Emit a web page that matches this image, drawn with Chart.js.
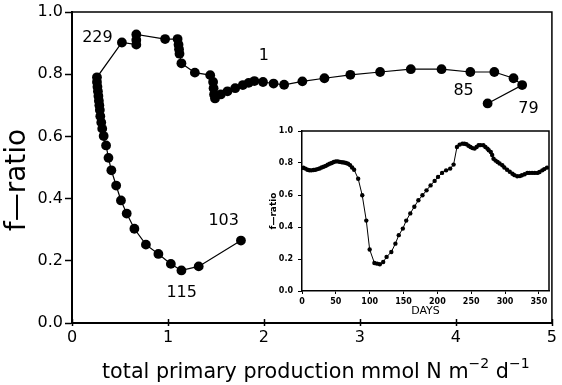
<!DOCTYPE html>
<html>
<head>
<meta charset="utf-8">
<script src="https://cdn.jsdelivr.net/npm/chart.js@4/dist/chart.umd.min.js"></script>
<style>
  html, body { margin: 0; padding: 0; background: #fff; }
  #wrap { position: relative; width: 562px; height: 385px; overflow: hidden; }
  #main { position: absolute; left: 0; top: 0; }
  #inset { position: absolute; left: 262px; top: 120px; }
</style>
</head>
<body>
<div id="wrap">
  <canvas id="main" width="562" height="385"></canvas>
  <canvas id="inset" width="297" height="202"></canvas>
</div>
<script>
// Day 1 to day 85: total primary production (mmol N m-2 d-1) and f-ratio
const prodEarly = [1.99, 2.10, 2.21, 2.40, 2.63, 2.90, 3.21, 3.53, 3.85, 4.15, 4.40, 4.60, 4.69, 4.33];
const fEarly    = [0.775, 0.770, 0.766, 0.777, 0.787, 0.798, 0.807, 0.816, 0.816, 0.807, 0.807, 0.787, 0.765, 0.706];

// Day 103 to the end of the year
const prodLate = [1.76, 1.32, 1.14, 1.03, 0.90, 0.77, 0.65, 0.57, 0.51, 0.46,
                  0.41, 0.38, 0.355, 0.33, 0.315, 0.305, 0.295, 0.29, 0.285, 0.28,
                  0.275, 0.27, 0.265, 0.26, 0.26, 0.52, 0.67, 0.67, 0.67, 0.97,
                  1.10, 1.11, 1.115, 1.12, 1.14, 1.28, 1.44, 1.47, 1.475, 1.48,
                  1.49, 1.55, 1.62, 1.70, 1.78, 1.84, 1.90];
const fLate    = [0.265, 0.182, 0.169, 0.190, 0.222, 0.252, 0.303, 0.352, 0.394, 0.442,
                  0.491, 0.531, 0.571, 0.601, 0.625, 0.645, 0.665, 0.685, 0.700, 0.715,
                  0.730, 0.745, 0.760, 0.775, 0.790, 0.902, 0.895, 0.910, 0.928, 0.913,
                  0.913, 0.895, 0.880, 0.866, 0.835, 0.805, 0.797, 0.775, 0.755, 0.735,
                  0.722, 0.735, 0.745, 0.755, 0.765, 0.772, 0.778];

// Day-number annotations placed in data units
const dayText = ['229', '1', '85', '79', '103', '115'];
const dayX    = [0.265, 2.00, 4.08, 4.755, 1.58, 1.143];
const dayY    = [0.916, 0.858, 0.748, 0.690, 0.327, 0.098];

// Main axis ticks
const xTicks = [0, 1, 2, 3, 4, 5];
const yTicks = [0.0, 0.2, 0.4, 0.6, 0.8, 1.0];

// Inset: f-ratio through the year
const insetDay = [2, 5, 8, 11, 14, 17, 20, 23, 26, 29,
                  32, 35, 38, 41, 44, 47, 50, 53, 56, 59,
                  62, 65, 68, 71, 74, 77, 83, 89, 95, 100,
                  107, 111, 115, 120, 125, 132, 138, 143, 149, 154,
                  160, 166, 172, 178, 184, 190, 196, 201, 207, 213,
                  219, 224, 229, 233, 237, 240, 243, 246, 249, 252,
                  255, 258, 261, 264, 268, 271, 274, 276, 279, 281,
                  283, 286, 289, 292, 296, 299, 303, 307, 311, 314,
                  318, 322, 325, 329, 333, 336, 340, 344, 348, 351,
                  355, 358, 362];
const insetF   = [0.770, 0.765, 0.758, 0.755, 0.754, 0.756, 0.758, 0.762, 0.766, 0.772,
                  0.777, 0.782, 0.789, 0.795, 0.800, 0.806, 0.810, 0.810, 0.807, 0.805,
                  0.803, 0.800, 0.795, 0.787, 0.772, 0.758, 0.702, 0.598, 0.440, 0.259,
                  0.175, 0.171, 0.167, 0.181, 0.213, 0.244, 0.296, 0.349, 0.390, 0.440,
                  0.485, 0.527, 0.567, 0.598, 0.629, 0.660, 0.688, 0.713, 0.738, 0.754,
                  0.765, 0.790, 0.900, 0.915, 0.921, 0.920, 0.917, 0.908, 0.900, 0.893,
                  0.890, 0.900, 0.911, 0.912, 0.911, 0.900, 0.890, 0.880, 0.869, 0.850,
                  0.827, 0.815, 0.806, 0.797, 0.786, 0.772, 0.758, 0.745, 0.733, 0.724,
                  0.717, 0.718, 0.723, 0.730, 0.738, 0.738, 0.738, 0.738, 0.738, 0.744,
                  0.754, 0.762, 0.771];
const insetXTicks = [0, 50, 100, 150, 200, 250, 300, 350];

const FONT = "'DejaVu Sans', sans-serif";
const pts = (xs, ys) => xs.map((x, i) => ({ x: x, y: ys[i] }));

const seriesStyle = {
  showLine: true,
  borderColor: '#000',
  backgroundColor: '#000',
  borderWidth: 1.2,
  pointRadius: 4.9,
  pointBorderWidth: 0,
  pointHoverRadius: 4.9
};

// Frame on the top and right, ticks crossing the x axis, day labels, axis titles
const mainDecor = {
  id: 'mainDecor',
  afterDatasetsDraw(chart) {
    const { ctx, chartArea: a, scales: { x, y } } = chart;
    ctx.save();
    ctx.strokeStyle = '#000';
    ctx.lineWidth = 1.5;
    ctx.beginPath();
    ctx.moveTo(a.left, a.top);
    ctx.lineTo(a.right, a.top);
    ctx.lineTo(a.right, a.bottom);
    ctx.stroke();

    ctx.lineWidth = 1.5;
    xTicks.forEach(v => {
      const px = Math.round(x.getPixelForValue(v)) + 0.5;
      ctx.beginPath();
      ctx.moveTo(px, a.bottom - 4);
      ctx.lineTo(px, a.bottom + 3);
      ctx.stroke();
    });

    ctx.fillStyle = '#000';
    ctx.font = '16px ' + FONT;
    ctx.textAlign = 'center';
    ctx.textBaseline = 'middle';
    dayText.forEach((t, i) => {
      ctx.fillText(t, x.getPixelForValue(dayX[i]), y.getPixelForValue(dayY[i]));
    });

    // y-axis title
    ctx.save();
    ctx.translate(17.5, 180);
    ctx.rotate(-Math.PI / 2);
    ctx.font = '28px ' + FONT;
    ctx.fillText('f\u2014ratio', 0, 0);
    ctx.restore();

    // x-axis title with superscripts
    const parts = [
      ['total primary production mmol N m', 20.7, 0],
      ['\u22122', 14, -10],
      [' d', 20.7, 0],
      ['\u22121', 14, -10]
    ];
    ctx.textAlign = 'left';
    ctx.textBaseline = 'alphabetic';
    let cx = 102;
    const base = 378;
    parts.forEach(([t, size, dy]) => {
      ctx.font = size + 'px ' + FONT;
      ctx.fillText(t, cx, base + dy);
      cx += ctx.measureText(t).width;
    });
    ctx.restore();
  }
};

new Chart(document.getElementById('main'), {
  type: 'scatter',
  data: {
    datasets: [
      Object.assign({ label: 'days 1-85', data: pts(prodEarly, fEarly) }, seriesStyle),
      Object.assign({ label: 'days 103-365', data: pts(prodLate, fLate) }, seriesStyle)
    ]
  },
  options: {
    responsive: false,
    animation: false,
    devicePixelRatio: 1,
    layout: { padding: { top: 12, right: 2, left: 0, bottom: 0 } },
    plugins: { legend: { display: false }, tooltip: { enabled: false } },
    scales: {
      x: {
        type: 'linear', min: 0, max: 5,
        afterBuildTicks(s) { s.ticks = xTicks.map(v => ({ value: v })); },
        ticks: { padding: 5, color: '#000', font: { family: FONT, size: 16 }, callback: v => String(v) },
        grid: { display: true, drawOnChartArea: false, drawTicks: false },
        border: { display: true, color: '#000', width: 2 },
        afterFit(s) { s.height = 62; }
      },
      y: {
        type: 'linear', min: 0, max: 1,
        afterBuildTicks(s) { s.ticks = yTicks.map(v => ({ value: v })); },
        ticks: { padding: 2, color: '#000', font: { family: FONT, size: 16 }, callback: v => v.toFixed(1) },
        grid: { display: true, drawOnChartArea: false, drawTicks: true, tickLength: 7, tickColor: '#000', tickWidth: 1.5 },
        border: { display: true, color: '#000', width: 2 },
        afterFit(s) { s.width = 72; }
      }
    }
  },
  plugins: [mainDecor]
});

const insetFrame = {
  id: 'insetFrame',
  afterDatasetsDraw(chart) {
    const { ctx, chartArea: a } = chart;
    ctx.save();
    ctx.strokeStyle = '#000';
    ctx.lineWidth = 1.5;
    ctx.beginPath();
    ctx.moveTo(a.left, a.top);
    ctx.lineTo(a.right, a.top);
    ctx.lineTo(a.right, a.bottom);
    ctx.stroke();
    ctx.restore();
  }
};

new Chart(document.getElementById('inset'), {
  type: 'scatter',
  data: {
    datasets: [{
      label: 'f-ratio by day',
      data: pts(insetDay, insetF),
      showLine: true,
      borderColor: '#000',
      backgroundColor: '#000',
      borderWidth: 1,
      pointRadius: 2.2,
      pointBorderWidth: 0
    }]
  },
  options: {
    responsive: false,
    animation: false,
    devicePixelRatio: 1,
    layout: { padding: { top: 11, right: 10, left: 0, bottom: 0 } },
    plugins: { legend: { display: false }, tooltip: { enabled: false } },
    scales: {
      x: {
        type: 'linear', min: 0, max: 365,
        afterBuildTicks(s) { s.ticks = insetXTicks.map(v => ({ value: v })); },
        ticks: { padding: 3, color: '#000', font: { family: FONT, size: 8, weight: 'bold' }, callback: v => String(v) },
        grid: { display: true, drawOnChartArea: false, drawTicks: true, tickLength: 3, tickColor: '#000' },
        border: { display: true, color: '#000', width: 1.5 },
        title: { display: true, text: 'DAYS', color: '#000', font: { family: FONT, size: 11 }, padding: { top: 0, bottom: 4 } },
        afterFit(s) { s.height = 31; }
      },
      y: {
        type: 'linear', min: 0, max: 1,
        afterBuildTicks(s) { s.ticks = yTicks.map(v => ({ value: v })); },
        ticks: { padding: 5, color: '#000', font: { family: FONT, size: 8, weight: 'bold' }, callback: v => v.toFixed(1) },
        grid: { display: true, drawOnChartArea: false, drawTicks: true, tickLength: 4, tickColor: '#000' },
        border: { display: true, color: '#000', width: 1.5 },
        title: { display: true, text: 'f\u2014ratio', color: '#000', font: { family: FONT, size: 9, weight: 'bold' }, padding: { top: 6, bottom: 0 } },
        afterFit(s) { s.width = 40; }
      }
    }
  },
  plugins: [insetFrame]
});
</script>
</body>
</html>
